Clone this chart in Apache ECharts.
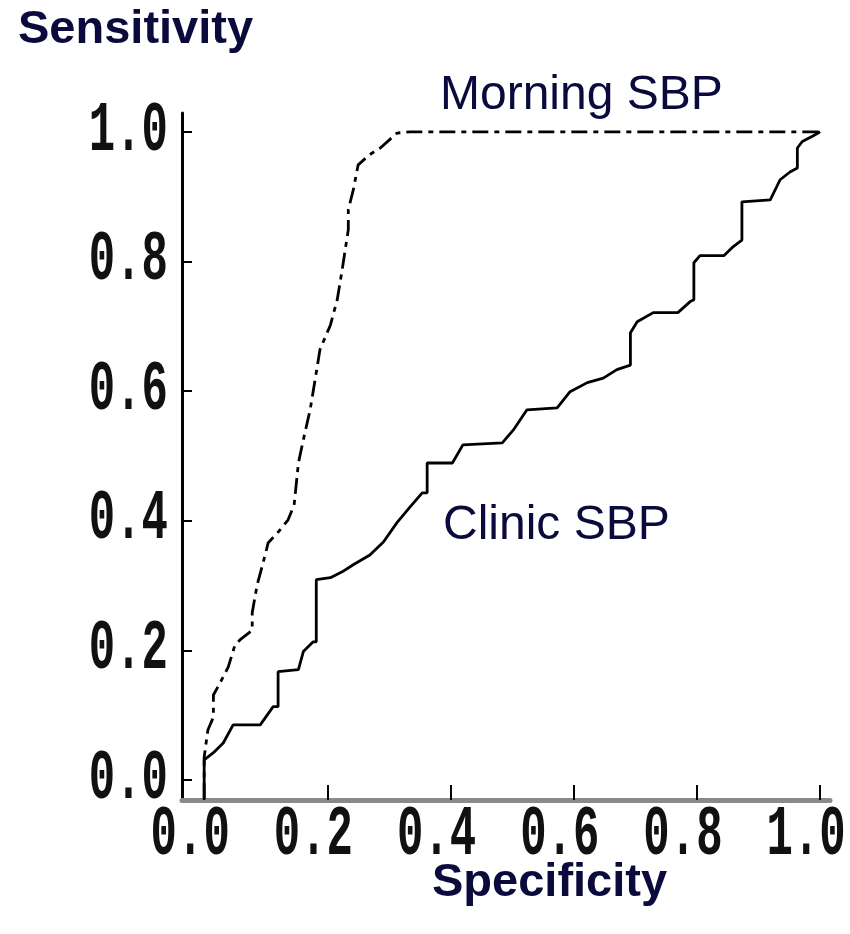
<!DOCTYPE html>
<html>
<head>
<meta charset="utf-8">
<script src="https://cdn.jsdelivr.net/npm/echarts@6/dist/echarts.min.js"></script>
<style>
html,body{margin:0;padding:0;background:#fff;}
#chart{width:850px;height:934px;}
</style>
</head>
<body>
<div id="chart"></div>
<script>
// ---- data ----
var xTickValues = [0.0, 0.2, 0.4, 0.6, 0.8, 1.0];
var yTickValues = [0.0, 0.2, 0.4, 0.6, 0.8, 1.0];
var xTickLabels = ['0.0', '0.2', '0.4', '0.6', '0.8', '1.0'];
var yTickLabels = ['0.0', '0.2', '0.4', '0.6', '0.8', '1.0'];

var clinicX = [0, 0, 0.015, 0.031, 0.047, 0.091, 0.112, 0.120, 0.120, 0.153, 0.161, 0.177, 0.182, 0.182, 0.205, 0.224, 0.242, 0.269, 0.291, 0.313, 0.334, 0.354, 0.362, 0.362, 0.403, 0.420, 0.484, 0.502, 0.524, 0.573, 0.594, 0.622, 0.648, 0.670, 0.692, 0.692, 0.703, 0.729, 0.769, 0.789, 0.795, 0.795, 0.805, 0.844, 0.859, 0.873, 0.873, 0.919, 0.935, 0.951, 0.963, 0.963, 0.971, 0.989, 1.0];
var clinicY = [-0.03, 0.031, 0.042, 0.057, 0.085, 0.085, 0.113, 0.113, 0.167, 0.170, 0.198, 0.213, 0.213, 0.309, 0.312, 0.321, 0.332, 0.347, 0.367, 0.397, 0.421, 0.443, 0.443, 0.489, 0.489, 0.517, 0.520, 0.540, 0.571, 0.574, 0.599, 0.613, 0.620, 0.633, 0.640, 0.690, 0.707, 0.721, 0.721, 0.738, 0.741, 0.798, 0.809, 0.809, 0.823, 0.833, 0.892, 0.895, 0.926, 0.938, 0.944, 0.975, 0.985, 0.994, 1.0];

var morningX = [0, 0, 0.006, 0.015, 0.015, 0.026, 0.039, 0.050, 0.058, 0.078, 0.078, 0.086, 0.094, 0.104, 0.119, 0.136, 0.146, 0.153, 0.161, 0.172, 0.180, 0.188, 0.205, 0.216, 0.224, 0.234, 0.234, 0.242, 0.250, 0.269, 0.286, 0.313, 0.334, 1.0];
var morningY = [-0.03, 0.035, 0.077, 0.097, 0.131, 0.150, 0.174, 0.208, 0.216, 0.231, 0.258, 0.301, 0.329, 0.366, 0.381, 0.401, 0.424, 0.489, 0.525, 0.571, 0.617, 0.664, 0.702, 0.741, 0.787, 0.849, 0.880, 0.910, 0.949, 0.965, 0.975, 0.998, 1.0, 1.0];

function zip(a, b) { return a.map(function (v, i) { return [v, b[i]]; }); }

var X_MIN = -0.036, X_MAX = 1.016, Y_MIN = -0.031, Y_MAX = 1.029;
var NAVY = '#0a0a3c';
var TICK_FONT = 'bold 44px "Liberation Mono", "DejaVu Sans Mono", monospace';

var chart = echarts.init(document.getElementById('chart'), null, {renderer: 'canvas'});

var option = {
  animation: false,
  backgroundColor: '#ffffff',
  grid: {left: 182, right: 20, top: 113, bottom: 134, containLabel: false},
  xAxis: {
    type: 'value', min: X_MIN, max: X_MAX,
    splitLine: {show: false},
    axisLine: {show: true, onZero: false, lineStyle: {color: '#8a8a8a', width: 5}},
    axisTick: {show: true, inside: true, length: 15, customValues: xTickValues, lineStyle: {color: '#000', width: 2}},
    axisLabel: {show: false}
  },
  yAxis: {
    type: 'value', min: Y_MIN, max: Y_MAX,
    splitLine: {show: false},
    axisLine: {show: true, onZero: false, lineStyle: {color: '#000', width: 3}},
    axisTick: {show: true, inside: true, length: 10, customValues: yTickValues, lineStyle: {color: '#000', width: 2}},
    axisLabel: {show: false}
  },
  series: [
    {
      name: 'Clinic SBP', type: 'line', data: zip(clinicX, clinicY),
      showSymbol: false, symbol: 'none',
      lineStyle: {color: '#000', width: 2.8}
    },
    {
      name: 'Morning SBP', type: 'line', data: zip(morningX, morningY),
      showSymbol: false, symbol: 'none',
      lineStyle: {color: '#000', width: 2.8, type: [16, 6, 5, 6]}
    }
  ],
  graphic: [
    {type: 'text', left: 18, top: 7, style: {text: 'Sensitivity', font: 'bold 47px "Liberation Sans", Arial, sans-serif', fill: NAVY}},
    {type: 'text', left: 432, top: 860, style: {text: 'Specificity', font: 'bold 47px "Liberation Sans", Arial, sans-serif', fill: NAVY}},
    {type: 'text', left: 440, top: 72, style: {text: 'Morning SBP', font: '48px "Liberation Sans", Arial, sans-serif', fill: NAVY}},
    {type: 'text', left: 443, top: 502, style: {text: 'Clinic SBP', font: '48px "Liberation Sans", Arial, sans-serif', fill: NAVY}}
  ]
};
chart.setOption(option);

// tick labels placed through the axis scales (tall, condensed typewriter-style digits)
var labelGraphics = [];
xTickValues.forEach(function (v, i) {
  var p = chart.convertToPixel({xAxisIndex: 0, yAxisIndex: 0}, [v, Y_MIN]);
  labelGraphics.push({
    type: 'text', x: p[0] - 14, y: p[1] + 36, scaleY: 1.6,
    style: {text: xTickLabels[i], font: TICK_FONT, fill: '#111', textAlign: 'center', textVerticalAlign: 'middle'}
  });
});
yTickValues.forEach(function (v, i) {
  var p = chart.convertToPixel({xAxisIndex: 0, yAxisIndex: 0}, [X_MIN, v]);
  labelGraphics.push({
    type: 'text', x: p[0] - 14, y: p[1], scaleY: 1.6,
    style: {text: yTickLabels[i], font: TICK_FONT, fill: '#111', textAlign: 'right', textVerticalAlign: 'middle'}
  });
});
chart.setOption({graphic: option.graphic.concat(labelGraphics)});
</script>
</body>
</html>
